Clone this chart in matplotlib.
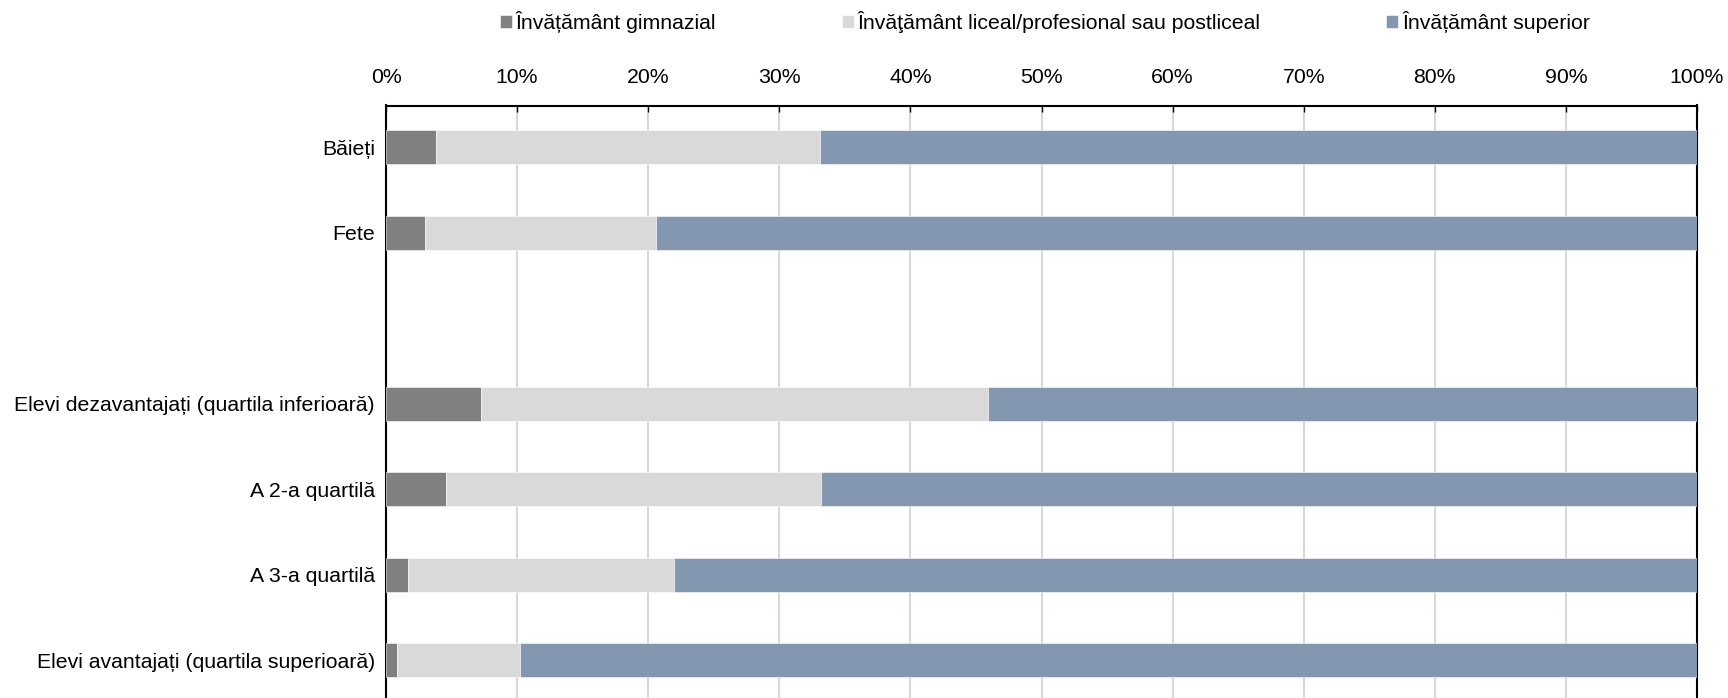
import matplotlib
matplotlib.use("Agg")
import matplotlib.pyplot as plt
import numpy as np

plt.rcParams["font.family"] = ["Liberation Sans", "DejaVu Sans"]

# --- data (shares in %) ---
categories = [
    "Băieți",
    "Fete",
    "",
    "Elevi dezavantajați (quartila inferioară)",
    "A 2-a quartilă",
    "A 3-a quartilă",
    "Elevi avantajați (quartila superioară)",
]
gimnazial = [3.8, 3.0, 0, 7.25, 4.6, 1.7, 0.85]
liceal    = [29.3, 17.6, 0, 38.65, 28.6, 20.3, 9.4]
superior  = [66.9, 79.4, 0, 54.1, 66.8, 78.0, 89.75]

series_names  = ["Învățământ gimnazial",
                 "Învăţământ liceal/profesional sau postliceal",
                 "Învățământ superior"]
series_colors = ["#808080", "#d9d9d9", "#8497b0"]

x_ticks = np.arange(0, 101, 10)
x_tick_labels = [f"{t}%" for t in x_ticks]

FS = 15.3

# --- plot ---
fig = plt.figure(figsize=(17.28, 6.98), dpi=100)
ax = fig.add_axes([386 / 1728, 0, 1311 / 1728, (698 - 105.5) / 698])

y = np.arange(len(categories))
mask = np.array([c != "" for c in categories])
left = np.zeros(len(categories))
for vals, name, col in zip([gimnazial, liceal, superior], series_names, series_colors):
    vals = np.array(vals, dtype=float)
    ax.barh(y[mask], vals[mask], left=left[mask], height=0.4, color=col,
            edgecolor="white", linewidth=0.4, label=name, zorder=3)
    left += vals

ax.set_xlim(0, 100)
ax.set_ylim(6.44, -0.49)
ax.set_yticks(y)
ax.set_yticklabels(categories, fontsize=FS)
ax.set_xticks(x_ticks)
ax.set_xticklabels(x_tick_labels, fontsize=FS)

ax.xaxis.tick_top()
ax.tick_params(axis="x", direction="in", length=4.5, width=1, pad=13, color="black")
ax.tick_params(axis="y", length=0, pad=8)
ax.grid(axis="x", color="#d0d0d0", linewidth=1.2, zorder=0)
ax.set_axisbelow(True)

for side in ["left", "top", "right"]:
    ax.spines[side].set_color("black")
    ax.spines[side].set_linewidth(1.5)
ax.spines["bottom"].set_visible(False)

handles, labels = ax.get_legend_handles_labels()
fig.legend(handles, labels, loc="center", bbox_to_anchor=(1045 / 1728, 1 - 22 / 698),
           ncol=3, frameon=False, fontsize=FS, handlelength=0.55, handleheight=0.55,
           handletextpad=0.2, columnspacing=5.9)

fig.savefig("out.png", dpi=100)
